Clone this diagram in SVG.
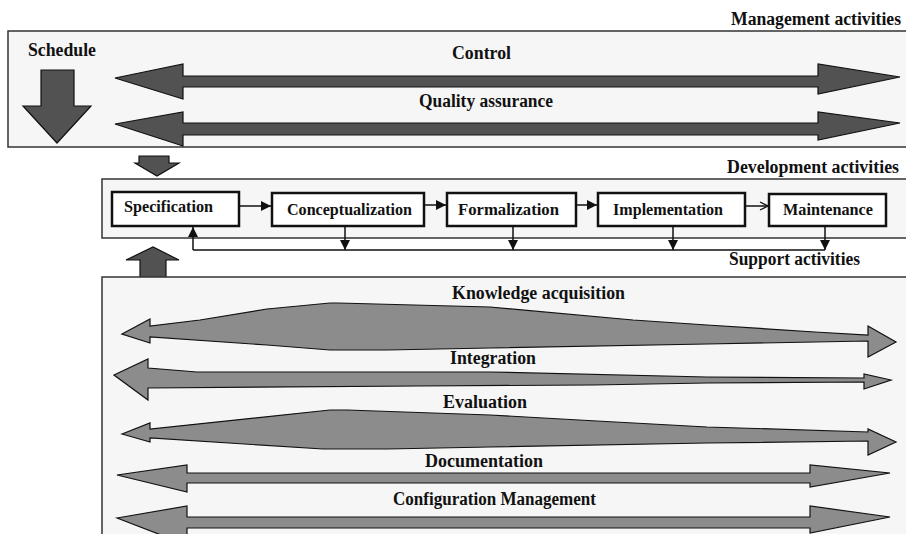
<svg xmlns="http://www.w3.org/2000/svg" width="906" height="534" viewBox="0 0 906 534">
<style>
text{font-family:"Liberation Serif","Times New Roman",serif;font-weight:bold;fill:#111}
.h{font-size:18px}
.n{font-size:16.5px}
.panel{fill:#f6f6f6;stroke:#333;stroke-width:1.5}
.mg{fill:#525252;stroke:#111;stroke-width:1.2;stroke-linejoin:miter}
.sp{fill:#8c8c8c;stroke:#111;stroke-width:1.2;stroke-linejoin:miter}
.box{fill:#fff;stroke:#111;stroke-width:2.5}
.ln{fill:none;stroke:#111;stroke-width:1.5}
</style>
<defs>
<marker id="ah" markerUnits="userSpaceOnUse" markerWidth="11" markerHeight="10" refX="10" refY="5" orient="auto">
<path d="M0,0 L10,5 L0,10 Z" fill="#111"/>
</marker>
<marker id="ao" markerUnits="userSpaceOnUse" markerWidth="11" markerHeight="10" refX="9" refY="5" orient="auto">
<path d="M1,1 L9,5 L1,9" fill="none" stroke="#111" stroke-width="1.3"/>
</marker>
</defs>
<rect width="906" height="534" fill="#fff"/>

<g id="management">
<rect class="panel" x="8" y="31" width="910" height="116"/>
<text class="h" x="901" y="25" text-anchor="end" textLength="170" lengthAdjust="spacingAndGlyphs">Management activities</text>
<text class="h" x="28" y="56" textLength="68" lengthAdjust="spacingAndGlyphs">Schedule</text>
<polygon id="schedule-arrow" class="mg" points="41,70 74,70 74,106 91,106 57,143 23,106 41,106"/>
<g id="control">
<text class="h" x="452" y="59" textLength="59" lengthAdjust="spacingAndGlyphs">Control</text>
<polygon class="mg" points="115,78 183,64 183,76 818,76 818,64 900,77 818,94 818,87 183,87 183,99"/>
</g>
<g id="quality-assurance">
<text class="h" x="419" y="107" textLength="134" lengthAdjust="spacingAndGlyphs">Quality assurance</text>
<polygon class="mg" points="115,124 183,112 183,123 818,123 818,112 900,123 818,140 818,135 183,135 183,146"/>
</g>
</g>

<polygon id="schedule-to-dev" class="mg" points="139,156 169,156 169,163 179,163 157,176 135,163 139,163"/>

<g id="development">
<rect class="panel" x="102" y="179" width="816" height="59"/>
<text class="h" x="899" y="173" text-anchor="end" textLength="172" lengthAdjust="spacingAndGlyphs">Development activities</text>
</g>

<g id="specification">
<rect class="box" x="112" y="192" width="127" height="34" stroke-width="3"/>
<text class="n" x="124" y="212" textLength="89" lengthAdjust="spacingAndGlyphs">Specification</text>
</g>
<g id="conceptualization">
<rect class="box" x="272" y="193" width="152" height="33"/>
<text class="n" x="287" y="215" textLength="125" lengthAdjust="spacingAndGlyphs">Conceptualization</text>
</g>
<g id="formalization">
<rect class="box" x="447" y="193" width="129" height="33"/>
<text class="n" x="458" y="215" textLength="101" lengthAdjust="spacingAndGlyphs">Formalization</text>
</g>
<g id="implementation">
<rect class="box" x="598" y="193" width="147" height="33"/>
<text class="n" x="613" y="215" textLength="110" lengthAdjust="spacingAndGlyphs">Implementation</text>
</g>
<g id="maintenance">
<rect class="box" x="769" y="194" width="117" height="32"/>
<text class="n" x="783" y="215" textLength="90" lengthAdjust="spacingAndGlyphs">Maintenance</text>
</g>

<g id="connectors">
<line class="ln" x1="240" y1="206" x2="271" y2="206" marker-end="url(#ah)"/>
<line class="ln" x1="425" y1="205" x2="446" y2="205" marker-end="url(#ah)"/>
<line class="ln" x1="577" y1="205" x2="597" y2="205" marker-end="url(#ah)"/>
<line class="ln" x1="746" y1="206" x2="768" y2="206" marker-end="url(#ao)"/>
<line class="ln" x1="193" y1="250" x2="825" y2="250"/>
<line class="ln" x1="193" y1="250" x2="193" y2="227" marker-end="url(#ah)"/>
<line class="ln" x1="345" y1="227" x2="345" y2="250" marker-end="url(#ah)"/>
<line class="ln" x1="513" y1="227" x2="513" y2="250" marker-end="url(#ah)"/>
<line class="ln" x1="673" y1="227" x2="673" y2="250" marker-end="url(#ah)"/>
<line class="ln" x1="825" y1="227" x2="825" y2="250" marker-end="url(#ah)"/>
</g>

<text class="h" x="729" y="265" textLength="131" lengthAdjust="spacingAndGlyphs">Support activities</text>

<polygon id="support-to-dev" class="mg" points="140,278 166,278 166,260 179,260 153,247 126,260 140,260"/>

<g id="support">
<rect class="panel" x="102" y="277" width="816" height="270"/>
<g id="knowledge-acquisition">
<text class="h" x="452" y="299" textLength="173" lengthAdjust="spacingAndGlyphs">Knowledge acquisition</text>
<polygon class="sp" points="122,334 150,319 150,326 200,320 267,309 330,303 338,303 490,307 633,320 707,325 815,332 868,335 868,326 896,342 868,357 868,341 815,342 707,344 490,348 387,350 330,350 267,345 150,337 150,343"/>
</g>
<g id="integration">
<text class="h" x="450" y="364" textLength="86" lengthAdjust="spacingAndGlyphs">Integration</text>
<polygon class="sp" points="114,375 148,359 148,368 197,372 490,372 707,377 864,378 864,374 891,380 864,389 864,382 707,383 593,385 418,386 148,388 148,400"/>
</g>
<g id="evaluation">
<text class="h" x="443" y="408" textLength="84" lengthAdjust="spacingAndGlyphs">Evaluation</text>
<polygon class="sp" points="122,434 150,423 150,429 330,410 347,410 490,415 597,421 707,427 868,432 868,429 896,442 868,455 868,441 707,443 490,447 387,449 323,449 150,438 150,442"/>
</g>
<g id="documentation">
<text class="h" x="425" y="467" textLength="118" lengthAdjust="spacingAndGlyphs">Documentation</text>
<polygon class="sp" points="117,475 187,465 187,473 810,473 810,465 890,473 810,487 810,483 187,483 187,492"/>
</g>
<g id="configuration-management">
<text class="h" x="393" y="505" textLength="203" lengthAdjust="spacingAndGlyphs">Configuration Management</text>
<polygon class="sp" points="117,518 187,506 187,517 810,517 810,506 890,517 810,533 810,528 187,528 187,545"/>
</g>
</g>
</svg>
